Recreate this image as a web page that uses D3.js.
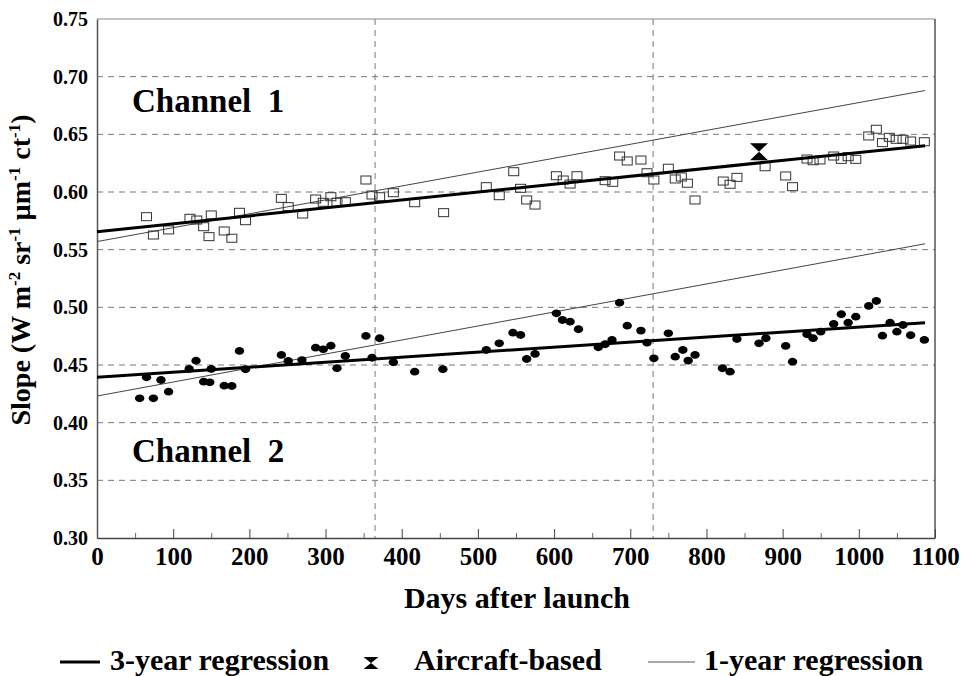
<!DOCTYPE html>
<html>
<head>
  <meta charset="utf-8">
  <script src="https://d3js.org/d3.v7.min.js"></script>
  <style>
    body { margin: 0; background: #fff; }
    text { font-family: "Liberation Serif", "Times New Roman", serif; font-weight: bold; fill: #000; }
    .grid line { stroke: #777; stroke-width: 1; stroke-dasharray: 6 5; }
  </style>
</head>
<body>
  <svg width="969" height="676"></svg>
  <script>
    // channel 1 (open squares)
    var ch1Days = [65, 74, 94, 122, 131, 140, 147, 150, 167, 177, 187, 195, 242, 251, 270, 287, 297, 307, 315, 326,
      353, 361, 371, 389, 417, 455, 511, 528, 547, 556, 564, 575, 603, 612, 621, 630, 667, 677, 686, 696,
      714, 722, 731, 750, 759, 767, 775, 785, 822, 831, 840, 877, 904, 913, 932, 940, 949, 967, 977, 986,
      996, 1013, 1023, 1031, 1040, 1049, 1058, 1068, 1086];
    var ch1Slope = [.5786, .5627, .5671, .5772, .5757, .5699, .5613, .5801, .5662, .5599, .5824, .5751, .5945, .5873, .5809, .5939, .5911, .5959, .5911, .5916,
      .6104, .5974, .5959, .5994, .5907, .5821, .6046, .5968, .6176, .6032, .5931, .5887, .6141, .6104, .6069, .6141, .6098, .6084, .6312, .6269,
      .6277, .6167, .6104, .6206, .6113, .6130, .6076, .5931, .6095, .6067, .6127, .6219, .6139, .6046, .6286, .6271, .6278, .6312, .6283, .6306,
      .6283, .6486, .6544, .6428, .6474, .6457, .6457, .6442, .6436];

    // channel 2 (filled circles)
    var ch2Days = [56, 65, 74, 84, 94, 121, 130, 140, 148, 150, 167, 177, 187, 195, 242, 251, 269, 287, 297, 307,
      315, 326, 353, 361, 371, 389, 417, 454, 511, 528, 546, 556, 564, 575, 603, 611, 621, 632, 658, 667,
      676, 686, 696, 714, 722, 731, 750, 759, 769, 776, 785, 821, 831, 840, 869, 878, 904, 913, 932, 940,
      950, 967, 977, 986, 996, 1013, 1023, 1031, 1041, 1050, 1058, 1068, 1086];
    var ch2Slope = [.4211, .4393, .4211, .4370, .4269, .4466, .4537, .4355, .4350, .4466, .4321, .4318, .4622, .4463, .4587, .4535, .4543, .4650, .4636, .4667,
      .4472, .4578, .4752, .4563, .4732, .4524, .4442, .4463, .4630, .4688, .4780, .4760, .4552, .4596, .4948, .4890, .4876, .4810, .4654, .4680,
      .4717, .5040, .4841, .4798, .4694, .4558, .4775, .4572, .4630, .4538, .4587, .4472, .4442, .4725, .4688, .4732, .4665, .4529, .4766, .4732,
      .4789, .4856, .4940, .4867, .4919, .5012, .5055, .4754, .4867, .4789, .4847, .4758, .4717];

    // regression lines (start and end day)
    var fitDays = [0, 1087];
    var ch1Fit3yr = [0.5656, 0.6402];
    var ch1Fit1yr = [0.557, 0.688];
    var ch2Fit3yr = [0.4393, 0.4867];
    var ch2Fit1yr = [0.4231, 0.5551];

    var aircraftDay = 869, aircraftSlope = 0.635;

    var xTicks = d3.range(0, 1101, 100);
    var xMinor = d3.range(50, 1100, 100);
    var yTicks = [0.30, 0.35, 0.40, 0.45, 0.50, 0.55, 0.60, 0.65, 0.70, 0.75];
    var yGrid = [0.35, 0.40, 0.45, 0.50, 0.55, 0.60, 0.65, 0.70];
    var xGrid = [365, 730];

    var svg = d3.select("svg");
    var mLeft = 97, mRight = 935, mTop = 19, mBottom = 538;
    var x = d3.scaleLinear().domain([0, 1100]).range([mLeft, mRight]);
    var y = d3.scaleLinear().domain([0.30, 0.75]).range([mBottom, mTop]);

    // grid
    var grid = svg.append("g").attr("class", "grid");
    grid.selectAll(".hg").data(yGrid).enter().append("line")
      .attr("x1", mLeft).attr("x2", mRight)
      .attr("y1", function(d) { return y(d); }).attr("y2", function(d) { return y(d); });
    grid.selectAll(".vg").data(xGrid).enter().append("line")
      .attr("y1", mTop).attr("y2", mBottom)
      .attr("x1", function(d) { return x(d); }).attr("x2", function(d) { return x(d); });

    // frame
    svg.append("line").attr("x1", mLeft).attr("x2", mRight).attr("y1", mTop).attr("y2", mTop)
      .attr("stroke", "#888").attr("stroke-width", 1);
    svg.append("line").attr("x1", mRight).attr("x2", mRight).attr("y1", mTop).attr("y2", mBottom)
      .attr("stroke", "#555").attr("stroke-width", 1.5);

    // axes
    var xAxis = svg.append("g").attr("transform", "translate(0," + mBottom + ")")
      .call(d3.axisBottom(x).tickValues(xTicks).tickSize(-9).tickPadding(9).tickSizeOuter(0).tickFormat(d3.format("d")));
    xAxis.selectAll("text").style("font-size", "25px");
    xAxis.selectAll("line").attr("stroke", "#444");
    xAxis.select(".domain").attr("stroke", "#444").attr("stroke-width", 1.5);
    svg.append("g").attr("transform", "translate(0," + mBottom + ")")
      .call(d3.axisBottom(x).tickValues(xMinor).tickSize(-5).tickFormat(""))
      .call(function(g) { g.select(".domain").remove(); g.selectAll("line").attr("stroke", "#666"); });

    var yAxis = svg.append("g").attr("transform", "translate(" + mLeft + ",0)")
      .call(d3.axisLeft(y).tickValues(yTicks).tickSize(0).tickPadding(9).tickFormat(d3.format(".2f")));
    yAxis.selectAll("text").style("font-size", "20px");
    yAxis.select(".domain").attr("stroke", "#555").attr("stroke-width", 1.5);

    // regression lines
    var line = d3.line().x(function(d) { return x(d[0]); }).y(function(d) { return y(d[1]); });
    function fit(vals, w, col) {
      svg.append("path").datum(d3.zip(fitDays, vals)).attr("d", line)
        .attr("fill", "none").attr("stroke", col).attr("stroke-width", w);
    }
    fit(ch1Fit1yr, 1, "#444");
    fit(ch2Fit1yr, 1, "#444");

    // channel 1 squares
    svg.append("g").selectAll("rect").data(d3.zip(ch1Days, ch1Slope)).enter().append("rect")
      .attr("x", function(d) { return x(d[0]) - 5; })
      .attr("y", function(d) { return y(d[1]) - 4; })
      .attr("width", 10).attr("height", 8)
      .attr("fill", "none").attr("stroke", "#333").attr("stroke-width", 1);

    // channel 2 circles
    svg.append("g").selectAll("ellipse").data(d3.zip(ch2Days, ch2Slope)).enter().append("ellipse")
      .attr("cx", function(d) { return x(d[0]); })
      .attr("cy", function(d) { return y(d[1]); })
      .attr("rx", 4.7).attr("ry", 3.9).attr("fill", "#000");

    fit(ch1Fit3yr, 3, "#000");
    fit(ch2Fit3yr, 3, "#000");

    // aircraft-based hourglass
    function hourglass(cx, cy, w, h) {
      svg.append("path")
        .attr("d", "M" + (cx - w / 2) + "," + (cy - h / 2) + "L" + (cx + w / 2) + "," + (cy - h / 2) +
          "L" + cx + "," + cy + "L" + (cx + w / 2) + "," + (cy + h / 2) +
          "L" + (cx - w / 2) + "," + (cy + h / 2) + "L" + cx + "," + cy + "Z")
        .attr("fill", "#000");
    }
    hourglass(x(aircraftDay), y(aircraftSlope), 18, 17);

    // channel labels
    svg.append("text").attr("x", 132).attr("y", 112).style("font-size", "33px")
      .style("white-space", "pre").text("Channel  1");
    svg.append("text").attr("x", 132).attr("y", 462).style("font-size", "33px")
      .style("white-space", "pre").text("Channel  2");

    // axis titles
    svg.append("text").attr("x", (mLeft + mRight) / 2 + 1).attr("y", 608).attr("text-anchor", "middle")
      .style("font-size", "30px").text("Days after launch");

    var yt = svg.append("text").attr("transform", "translate(30,270) rotate(-90)")
      .attr("text-anchor", "middle").style("font-size", "28px");
    var parts = [["Slope (W m", false], ["-2", true], [" sr", false], ["-1", true], [" \u00b5m", false], ["-1", true], [" ct", false], ["-1", true], [")", false]];
    parts.forEach(function(p, i) {
      var t = yt.append("tspan").text(p[0]);
      if (p[1]) t.attr("dy", -10).style("font-size", "17px");
      else if (i > 0) t.attr("dy", 10);
    });

    // legend
    var ly = 662;
    svg.append("line").attr("x1", 60).attr("x2", 100).attr("y1", ly).attr("y2", ly)
      .attr("stroke", "#000").attr("stroke-width", 3);
    svg.append("text").attr("x", 110).attr("y", ly + 8).style("font-size", "30px").text("3-year regression");
    hourglass(371, ly + 1, 15, 12);
    svg.append("text").attr("x", 414).attr("y", ly + 8).style("font-size", "30px").text("Aircraft-based");
    svg.append("line").attr("x1", 648).attr("x2", 695).attr("y1", ly).attr("y2", ly)
      .attr("stroke", "#555").attr("stroke-width", 1);
    svg.append("text").attr("x", 704).attr("y", ly + 8).style("font-size", "30px").text("1-year regression");
  </script>
</body>
</html>
